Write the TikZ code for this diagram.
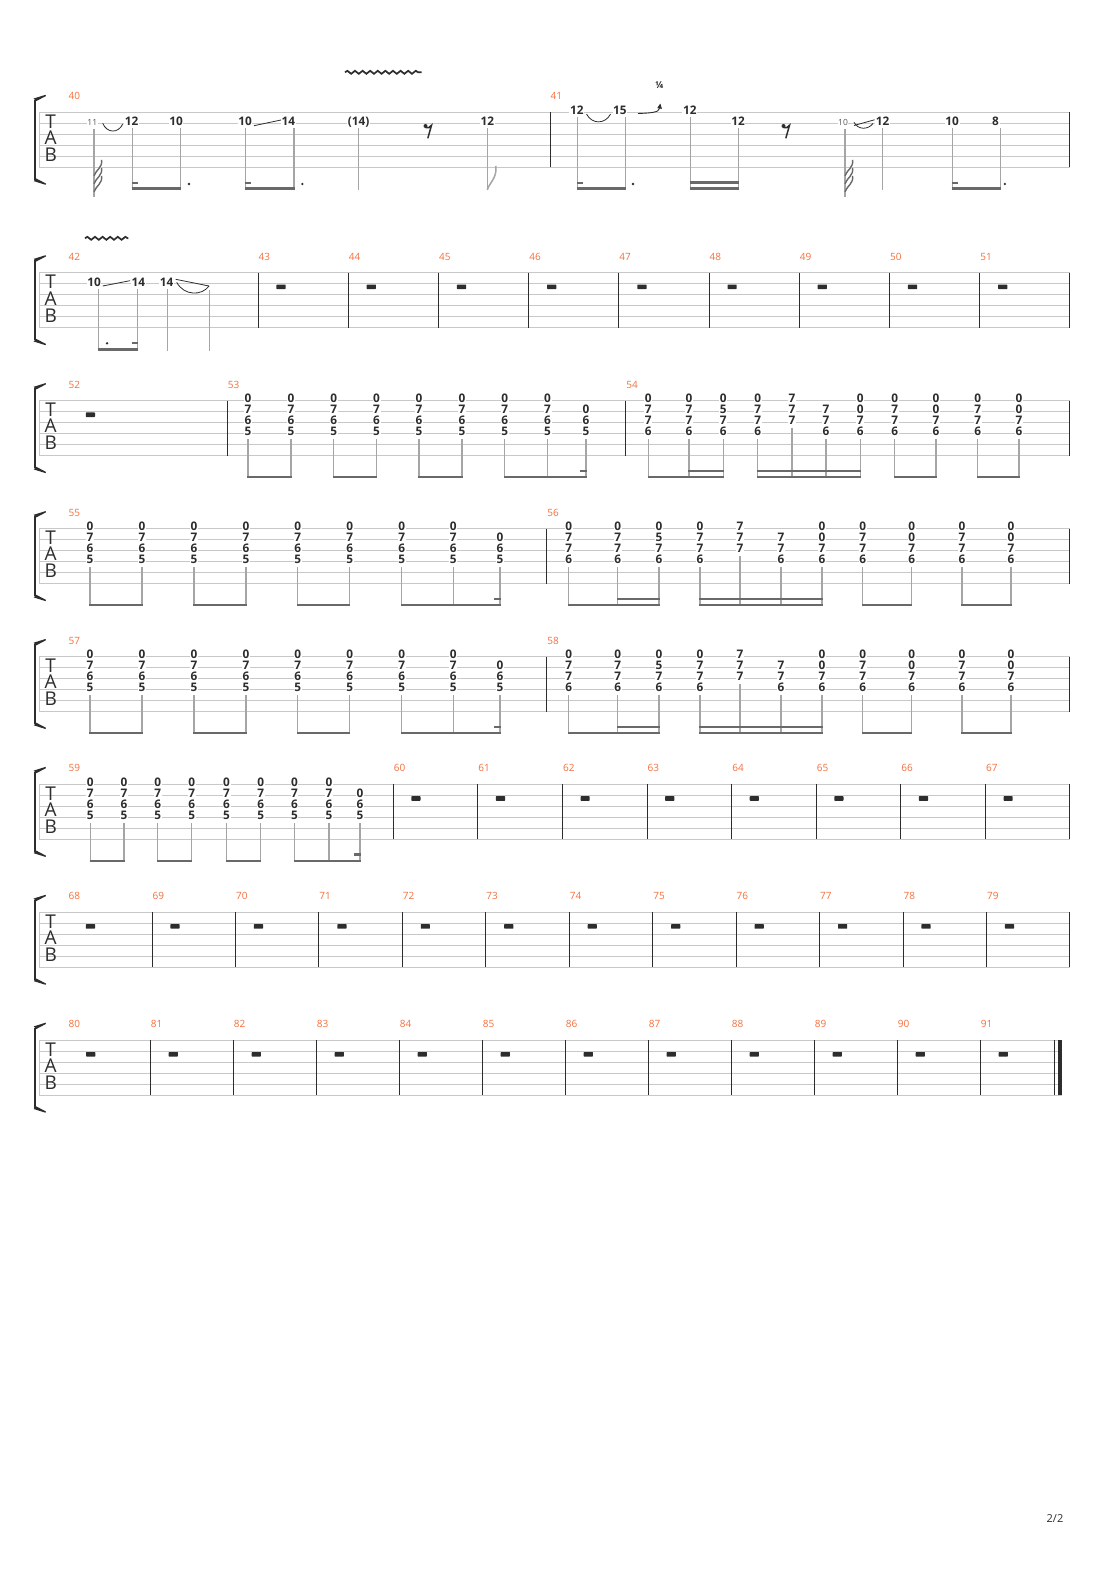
\documentclass[tikz,border=0pt]{standalone}
\usepackage{fontspec}
\setmainfont{Open Sans}
\usetikzlibrary{decorations.pathmorphing,arrows.meta}
\definecolor{staffgray}{RGB}{200,200,200}
\definecolor{barcol}{RGB}{45,45,45}
\definecolor{stemcol}{RGB}{165,165,165}
\definecolor{beamcol}{RGB}{105,105,105}
\definecolor{labelor}{RGB}{245,112,62}
\definecolor{inkcol}{RGB}{45,45,45}
\newcount\nodeno
\newcommand\fr[3]{\global\advance\nodeno by 1\relax\node[fretnum] (f\the\nodeno) at (#1,#2) {#3};}
\newcommand\mnum[3]{\global\advance\nodeno by 1\relax\node[mlabel] (m\the\nodeno) at (#1,#2-16) {#3};}
\newcommand\barl[2]{\pgfmathsetmacro\bxr{floor(#1)+0.5}\draw[barline] (\bxr,#2) -- (\bxr,#2+55);}
\newcommand\mrest[2]{\fill[inkcol, rounded corners=0.6pt] (#1-4.6,#2+11.8) rectangle (#1+4.6,#2+16.4);}
\newcommand\tstem[3]{\draw[stemline] (#1,#2) -- (#1,#3);}
\newcommand\pbeam[3]{\draw[beamline] (#1-0.6,#3+76.5) -- (#2+0.6,#3+76.5);}
\newcommand\sbeam[3]{\draw[beamline] (#1-0.6,#3+70.3) -- (#2+0.6,#3+70.3);}
\newcommand\chd[6]{\fr{#1}{#2-2}{#3}\fr{#1}{#2+9}{#4}\fr{#1}{#2+20}{#5}\fr{#1}{#2+31}{#6}\tstem{#1}{#2+38.5}{#2+77.7}}
\newcommand\chlow[5]{\fr{#1}{#2+9}{#3}\fr{#1}{#2+20}{#4}\fr{#1}{#2+31}{#5}\tstem{#1}{#2+38.5}{#2+77.7}}
\newcommand\chtri[5]{\fr{#1}{#2-2}{#3}\fr{#1}{#2+9}{#4}\fr{#1}{#2+20}{#5}\tstem{#1}{#2+27.3}{#2+77.7}}
% measure type A groups
\newcommand\pairA[3]{\chd{#1}{#3}{0}{7}{6}{5}\chd{#2}{#3}{0}{7}{6}{5}\pbeam{#1}{#2}{#3}}
\newcommand\tripA[4]{\chd{#1}{#4}{0}{7}{6}{5}\chd{#2}{#4}{0}{7}{6}{5}\chlow{#3}{#4}{0}{6}{5}\pbeam{#1}{#3}{#4}\draw[beamline] (#3-5.8,#4+70.3) -- (#3+0.6,#4+70.3);}
% measure type B groups
\newcommand\grpBa[4]{\chd{#1}{#4}{0}{7}{7}{6}\chd{#2}{#4}{0}{7}{7}{6}\chd{#3}{#4}{0}{5}{7}{6}\pbeam{#1}{#3}{#4}\sbeam{#2}{#3}{#4}}
\newcommand\grpBb[5]{\chd{#1}{#5}{0}{7}{7}{6}\chtri{#2}{#5}{7}{7}{7}\chlow{#3}{#5}{7}{7}{6}\chd{#4}{#5}{0}{0}{7}{6}\pbeam{#1}{#4}{#5}\sbeam{#1}{#4}{#5}}
\newcommand\grpBc[5]{\chd{#1}{#5}{0}{7}{7}{6}\chd{#2}{#5}{0}{0}{7}{6}\pbeam{#1}{#2}{#5}\chd{#3}{#5}{0}{7}{7}{6}\chd{#4}{#5}{0}{0}{7}{6}\pbeam{#3}{#4}{#5}}
\newcommand\tabsys[2]{%
  \foreach \k in {0,...,5} {\draw[staffline] (39,{#1+\k*11}) -- (#2,{#1+\k*11});}
  \draw[startline] (39.6,#1) -- (39.6,#1+55);
  \draw[bracketline] (35,#1-12.5) -- (35,#1+67.5);
  \fill[barcol] (33.7,#1-13.8) -- (45.5,#1-17.5) -- (46,#1-16.3) -- (36.3,#1-11.2) -- cycle;
  \fill[barcol] (33.7,#1+68.8) -- (45.5,#1+72.5) -- (46,#1+71.3) -- (36.3,#1+66.2) -- cycle;
  \global\advance\nodeno by 1\relax\node[tabletter] (t\the\nodeno) at (50.7,#1+9) {T};
  \global\advance\nodeno by 1\relax\node[tabletter] (t\the\nodeno) at (50.7,#1+25.5) {A};
  \global\advance\nodeno by 1\relax\node[tabletter] (t\the\nodeno) at (50.7,#1+42.5) {B};
}
\newcommand\eighthrest[2]{%
  \fill[inkcol] (#1-2.5,#2+13.7) circle (2);
  \draw[inkcol, line width=1.5] (#1-2.5,#2+15.2) .. controls (#1-0.5,#2+16.2) and (#1+2,#2+15.2) .. (#1+3.5,#2+13) -- (#1-0.2,#2+26);}
\newcommand\gracenote[4]{% num x, stem x, top, text
  \global\advance\nodeno by 1\relax\node[gracenum] (g\the\nodeno) at (#1,#3+9.8) {#4};
  \tstem{#2}{#3+16.7}{#3+84.4}
  \foreach \j in {0,1,2} {\draw[gflag] (#2,{#3+79.5-\j*8}) .. controls (#2+2,{#3+73.5-\j*8}) and (#2+9,{#3+71-\j*8}) .. (#2+7.5,{#3+63.5-\j*8});}
}
\begin{document}
\begin{tikzpicture}[x=1pt,y=-1pt,
  staffline/.style={draw=staffgray, line width=1.1pt},
  startline/.style={draw=staffgray, line width=1.1pt},
  barline/.style={draw=barcol, line width=1.1pt},
  bracketline/.style={draw=barcol, line width=2.6pt},
  stemline/.style={draw=stemcol, line width=1.2pt},
  beamline/.style={draw=beamcol, line width=2.6pt},
  gflag/.style={draw=beamcol, line width=1.4pt},
  thinink/.style={draw=inkcol, line width=0.8pt},
  fretnum/.style={font=\fontsize{11.8}{12}\selectfont\bfseries, text=inkcol, fill=white, inner sep=0.6pt, text height=8.4pt, text depth=0pt},
  gracenum/.style={font=\fontsize{8.5}{9}\selectfont, text=inkcol!80, fill=white, inner sep=0.5pt, text height=6pt, text depth=0pt},
  mlabel/.style={font=\fontsize{10}{10}\selectfont, text=labelor, inner sep=0pt, text height=7pt, text depth=0pt},
  tabletter/.style={font=\fontsize{19}{19}\selectfont, text=inkcol, inner sep=0pt, text height=13.6pt, text depth=0pt},
  vib/.style={draw=inkcol, line width=1.7pt, decorate, decoration={snake, segment length=7.6pt, amplitude=1.5pt}},
  dotn/.style={fill=inkcol}
]
\useasboundingbox[fill=white] (0,0) rectangle (1110,1570);

%================ SYSTEM 1 (top 112.3) =================
\tabsys{112.3}{1070}
\barl{550}{112.3}\barl{1069.6}{112.3}
\mnum{74.3}{112.3}{40}\mnum{556.3}{112.3}{41}
% m40
\gracenote{92.3}{94}{112.3}{11}
\draw[thinink] (102.7,123.3) .. controls (107,133.5) and (118.5,133.5) .. (122.7,124);
\fr{131.7}{121.8}{12}\fr{176}{121.8}{10}
\tstem{132.3}{128.3}{190}\tstem{180.7}{128.3}{190}
\pbeam{132.3}{180.7}{112.3}\draw[beamline] (131.7,183.1) -- (138,183.1);
\fill[dotn] (189,184) circle (1.3);
\fr{245}{121.8}{10}\fr{288.3}{121.8}{14}
\draw[thinink] (254,125.7) -- (281,120);
\tstem{245.7}{128.3}{190}\tstem{294}{128.3}{190}
\pbeam{245.7}{294}{112.3}\draw[beamline] (245.1,183.1) -- (251.4,183.1);
\fill[dotn] (302.3,184) circle (1.3);
\fr{358.7}{121.8}{(14)}
\tstem{358.7}{128.3}{190}
\draw[vib] (345,72.3) -- (421.7,72.3);
\eighthrest{428}{112.3}
\fr{487.3}{121.8}{12}
\tstem{487.3}{128.3}{190}
\draw[stemcol, line width=1.5pt] (487.3,190) .. controls (489,183) and (497.5,178) .. (495.8,166);
% m41
\fr{576.8}{110.8}{12}\fr{619.9}{110.8}{15}
\draw[thinink] (586.5,114) .. controls (592,124.5) and (605,124.5) .. (610.6,114);
\tstem{577.2}{117.5}{190}\tstem{625.4}{117.5}{190}
\pbeam{577.2}{625.4}{112.3}\draw[beamline] (576.6,183.1) -- (583,183.1);
\fill[dotn] (633,184) circle (1.3);
\draw[inkcol, line width=0.9pt, -{Triangle[length=5pt,width=4.5pt]}] (638,113.5) .. controls (651,113) and (659,112.5) .. (660.3,103.5);
\global\advance\nodeno by 1\relax\node[font=\fontsize{9.5}{10}\selectfont\bfseries, text=inkcol, inner sep=0pt] (q\the\nodeno) at (659.5,85.5) {¼};
\fr{689.8}{110.8}{12}\fr{738}{121.8}{12}
\tstem{690.1}{117.5}{190}\tstem{738.7}{128.3}{190}
\pbeam{690.1}{738.7}{112.3}\sbeam{690.1}{738.7}{112.3}
\eighthrest{786}{112.3}
\gracenote{843}{845}{112.3}{10}
\draw[thinink] (854,125.5) -- (874.5,119.8);
\draw[thinink] (854,122.3) .. controls (858,130) and (868,130) .. (873,123.5);
\fr{882.6}{121.8}{12}
\tstem{882.6}{128.3}{190}
\fr{952.2}{121.8}{10}\fr{995.6}{121.8}{8}
\tstem{952.2}{128.3}{190}\tstem{1000.4}{128.3}{190}
\pbeam{952.2}{1000.4}{112.3}\draw[beamline] (951.6,183.1) -- (958,183.1);
\fill[dotn] (1004.9,184) circle (1.3);

%================ SYSTEM 2 (top 272.7) =================
\tabsys{272.7}{1070}
\mnum{74.3}{272.7}{42}
\foreach \bx/\mn in {258/43,348.3/44,438.5/45,528.7/46,618.9/47,709.1/48,799.3/49,889.5/50,979.7/51}{
  \barl{\bx}{272.7}\mnum{\bx+6.3}{272.7}{\mn}\mrest{\bx+23}{272.7}}
\barl{1069.6}{272.7}
\draw[vib] (85,238.3) -- (128.3,238.3);
\fr{94}{282.2}{10}\fr{138.3}{282.2}{14}\fr{166.7}{282.2}{14}
\draw[thinink] (102.7,286) -- (130,280.7);
\draw[thinink] (175.7,279.3) -- (209,286);
\draw[thinink] (176.7,282.3) .. controls (184,296) and (202,296) .. (209,286);
\tstem{98.3}{289}{350.4}\tstem{137.7}{289}{350.4}
\tstem{167.3}{289}{351}\tstem{209.7}{290}{351}
\pbeam{98.3}{137.7}{272.7}\draw[beamline] (131.6,343) -- (138.3,343);
\fill[dotn] (107,343.3) circle (1.3);

%================ SYSTEM 3 (top 400.6) =================
\tabsys{400.6}{1070}
\barl{227.3}{400.6}\barl{625.7}{400.6}\barl{1069.6}{400.6}
\mnum{74.3}{400.6}{52}\mnum{233.6}{400.6}{53}\mnum{632}{400.6}{54}
\mrest{90.4}{400.6}
\pairA{248}{290.9}{400.6}\pairA{333.7}{376.6}{400.6}\pairA{419}{461.9}{400.6}
\tripA{504.8}{547.6}{585.9}{400.6}
\grpBa{648.3}{689}{723.3}{400.6}
\grpBb{757.7}{792}{826}{860.3}{400.6}
\grpBc{894.7}{936}{977.7}{1019}{400.6}

%================ SYSTEM 4 (top 528.6) =================
\tabsys{528.6}{1070}
\barl{546.7}{528.6}\barl{1069.6}{528.6}
\mnum{74.3}{528.6}{55}\mnum{553}{528.6}{56}
\pairA{90}{142}{528.6}\pairA{194}{246}{528.6}\pairA{297.7}{349.7}{528.6}
\tripA{401.7}{453.3}{500}{528.6}
\grpBa{568.7}{617.7}{659}{528.6}
\grpBb{700}{740}{781}{822}{528.6}
\grpBc{862.7}{911.7}{962}{1011}{528.6}

%================ SYSTEM 5 (top 656.5) =================
\tabsys{656.5}{1070}
\barl{546.7}{656.5}\barl{1069.6}{656.5}
\mnum{74.3}{656.5}{57}\mnum{553}{656.5}{58}
\pairA{90}{142}{656.5}\pairA{194}{246}{656.5}\pairA{297.7}{349.7}{656.5}
\tripA{401.7}{453.3}{500}{656.5}
\grpBa{568.7}{617.7}{659}{656.5}
\grpBb{700}{740}{781}{822}{656.5}
\grpBc{862.7}{911.7}{962}{1011}{656.5}

%================ SYSTEM 6 (top 784.4) =================
\tabsys{784.4}{1070}
\mnum{74.3}{784.4}{59}
\pairA{90.3}{124}{784.4}\pairA{157.8}{191.8}{784.4}\pairA{226.6}{260.7}{784.4}
\tripA{294.5}{328.9}{359.9}{784.4}
\foreach \bx/\mn in {393.3/60,477.9/61,562.5/62,647.1/63,731.7/64,816.3/65,900.9/66,985.5/67}{
  \barl{\bx}{784.4}\mnum{\bx+6.3}{784.4}{\mn}\mrest{\bx+22.6}{784.4}}
\barl{1069.6}{784.4}

%================ SYSTEM 7 (top 912.3) =================
\tabsys{912.3}{1070}
\mnum{74.3}{912.3}{68}\mrest{90.4}{912.3}
\foreach \i in {1,...,11}{
  \pgfmathsetmacro\bx{152+(\i-1)*83.45}
  \pgfmathtruncatemacro\mn{68+\i}
  \barl{\bx}{912.3}\mnum{\bx+6.3}{912.3}{\mn}\mrest{\bx+23}{912.3}}
\barl{1069.6}{912.3}

%================ SYSTEM 8 (top 1040.2) =================
\tabsys{1040.2}{1062}
\mnum{74.3}{1040.2}{80}\mrest{90.7}{1040.2}
\foreach \i in {1,...,11}{
  \pgfmathsetmacro\bx{150.3+(\i-1)*83}
  \pgfmathtruncatemacro\mn{80+\i}
  \barl{\bx}{1040.2}\mnum{\bx+6.3}{1040.2}{\mn}\mrest{\bx+23}{1040.2}}
\barl{1054.3}{1040.2}
\fill[barcol] (1058,1040.2) rectangle (1062,1095.2);

% page number
\node[font=\fontsize{11}{11}\selectfont, text=inkcol, inner sep=0pt] (pagenum) at (1055,1518) {2/2};
\end{tikzpicture}
\end{document}
